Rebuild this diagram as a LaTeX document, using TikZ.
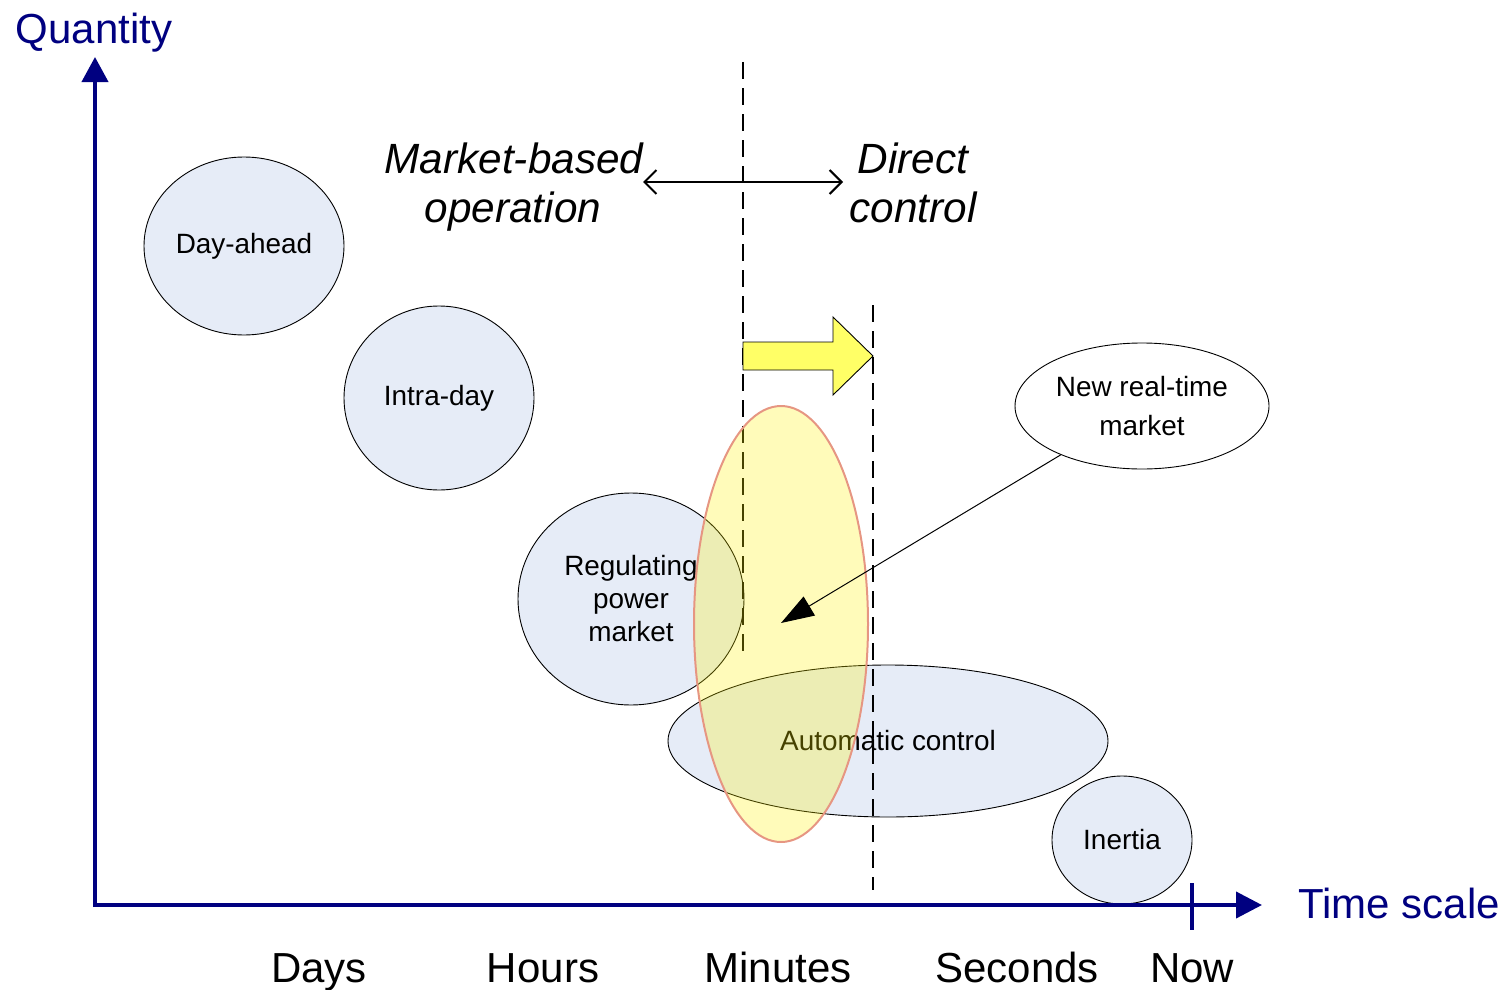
\documentclass[tikz,border=0pt]{standalone}
\usepackage{fontspec}
\setmainfont{Liberation Sans}
\usetikzlibrary{arrows.meta,shapes.geometric}
\definecolor{navy}{RGB}{0,0,128}
\definecolor{bluefill}{RGB}{230,236,247}
\definecolor{arrowyellow}{RGB}{255,255,102}
\definecolor{salmon}{RGB}{230,150,130}
\begin{document}
\begin{tikzpicture}[x=1pt,y=-1pt,
  bubble/.style={ellipse,draw=black,line width=0.9pt,fill=bluefill,inner sep=0pt,align=center,
    font=\fontsize{27.9}{33}\selectfont},
  axislabel/.style={text=navy,font=\fontsize{42}{50}\selectfont,inner sep=0pt},
  ticklabel/.style={font=\fontsize{42}{50}\selectfont,inner sep=0pt,anchor=base},
  bigitalic/.style={font=\fontsize{42.3}{49}\selectfont\itshape,inner sep=0pt,anchor=base},
  axis/.style={draw=navy,line width=4pt},
  divider/.style={draw=black,line width=2.2pt,dash pattern=on 17pt off 9pt}]
\useasboundingbox (0,0) rectangle (1507,990);

% bubbles
\node[bubble,minimum width=200pt,minimum height=178pt] (dayahead) at (244,246) {Day-ahead};
\node[bubble,minimum width=190pt,minimum height=184pt] (intraday) at (439,398) {Intra-day};
\node[bubble,minimum width=226pt,minimum height=212pt] (regpow) at (631,599) {Regulating\\power\\market};
\node[bubble,minimum width=440pt,minimum height=152pt] (autoctl) at (888,741) {Automatic control};
\node[bubble,minimum width=140pt,minimum height=128pt] (inertia) at (1122,840) {Inertia};

% dashed dividers
\coordinate (d1top) at (743,62);
\coordinate (d1bot) at (743,658);
\coordinate (d2top) at (873,305);
\coordinate (d2bot) at (873,890);
\draw[divider] (d1top) -- (d1bot);
\draw[divider] (d2top) -- (d2bot);

% yellow block arrow
\draw[fill=arrowyellow,draw=black,line width=0.9pt]
  (743,342) -- (833,342) -- (833,317) -- (873,356) -- (833,395) -- (833,370) -- (743,370) -- cycle;

% yellow transparent ellipse
\node[ellipse,minimum width=174pt,minimum height=436pt,inner sep=0pt,
  fill=yellow,fill opacity=0.27,draw=salmon,draw opacity=1,line width=2pt] (newzone) at (781,624) {};

% new real-time market
\node[ellipse,draw=black,line width=0.9pt,fill=white,inner sep=0pt,align=center,
  minimum width=254pt,minimum height=126pt,font=\fontsize{27.9}{39}\selectfont] (nrt) at (1142,406) {New real-time\\market};
\coordinate (nrttip) at (781,623);
\draw[line width=1pt,-{Triangle[length=33pt,width=22pt]}] (nrt) -- (nrttip);

% axes
\coordinate (origin) at (93,905);
\coordinate (ytip) at (95,57);
\coordinate (xtip) at (1262,905);
\draw[axis,-{Triangle[length=25pt,width=26pt]}] (95,907) -- (ytip);
\draw[axis,-{Triangle[length=26pt,width=26pt]}] (origin) -- (xtip);
\coordinate (ticktop) at (1192,883);
\coordinate (tickbot) at (1192,930);
\draw[axis] (ticktop) -- (tickbot);

\node[axislabel,anchor=base] (qty) at (94,44) {Quantity};
\node[axislabel,anchor=base] (tscale) at (1399,918) {Time scale};

% tick labels
\node[ticklabel] (days) at (319,982) {Days};
\node[ticklabel] (hours) at (543,982) {Hours};
\node[ticklabel] (minutes) at (778,982) {Minutes};
\node[ticklabel] (seconds) at (1017,982) {Seconds};
\node[ticklabel] (now) at (1192,982) {Now};

% regime labels
\node[bigitalic] (mb1) at (514,173) {Market-based};
\node[bigitalic] (mb2) at (513,222) {operation};
\node[bigitalic] (dc1) at (913,173) {Direct};
\node[bigitalic] (dc2) at (913,222) {control};
\coordinate (dal) at (643,182);
\coordinate (dar) at (843,182);
\draw[line width=2pt,{Straight Barb[length=12pt,width=24pt]}-{Straight Barb[length=12pt,width=24pt]}] (dal) -- (dar);
\end{tikzpicture}
\end{document}
